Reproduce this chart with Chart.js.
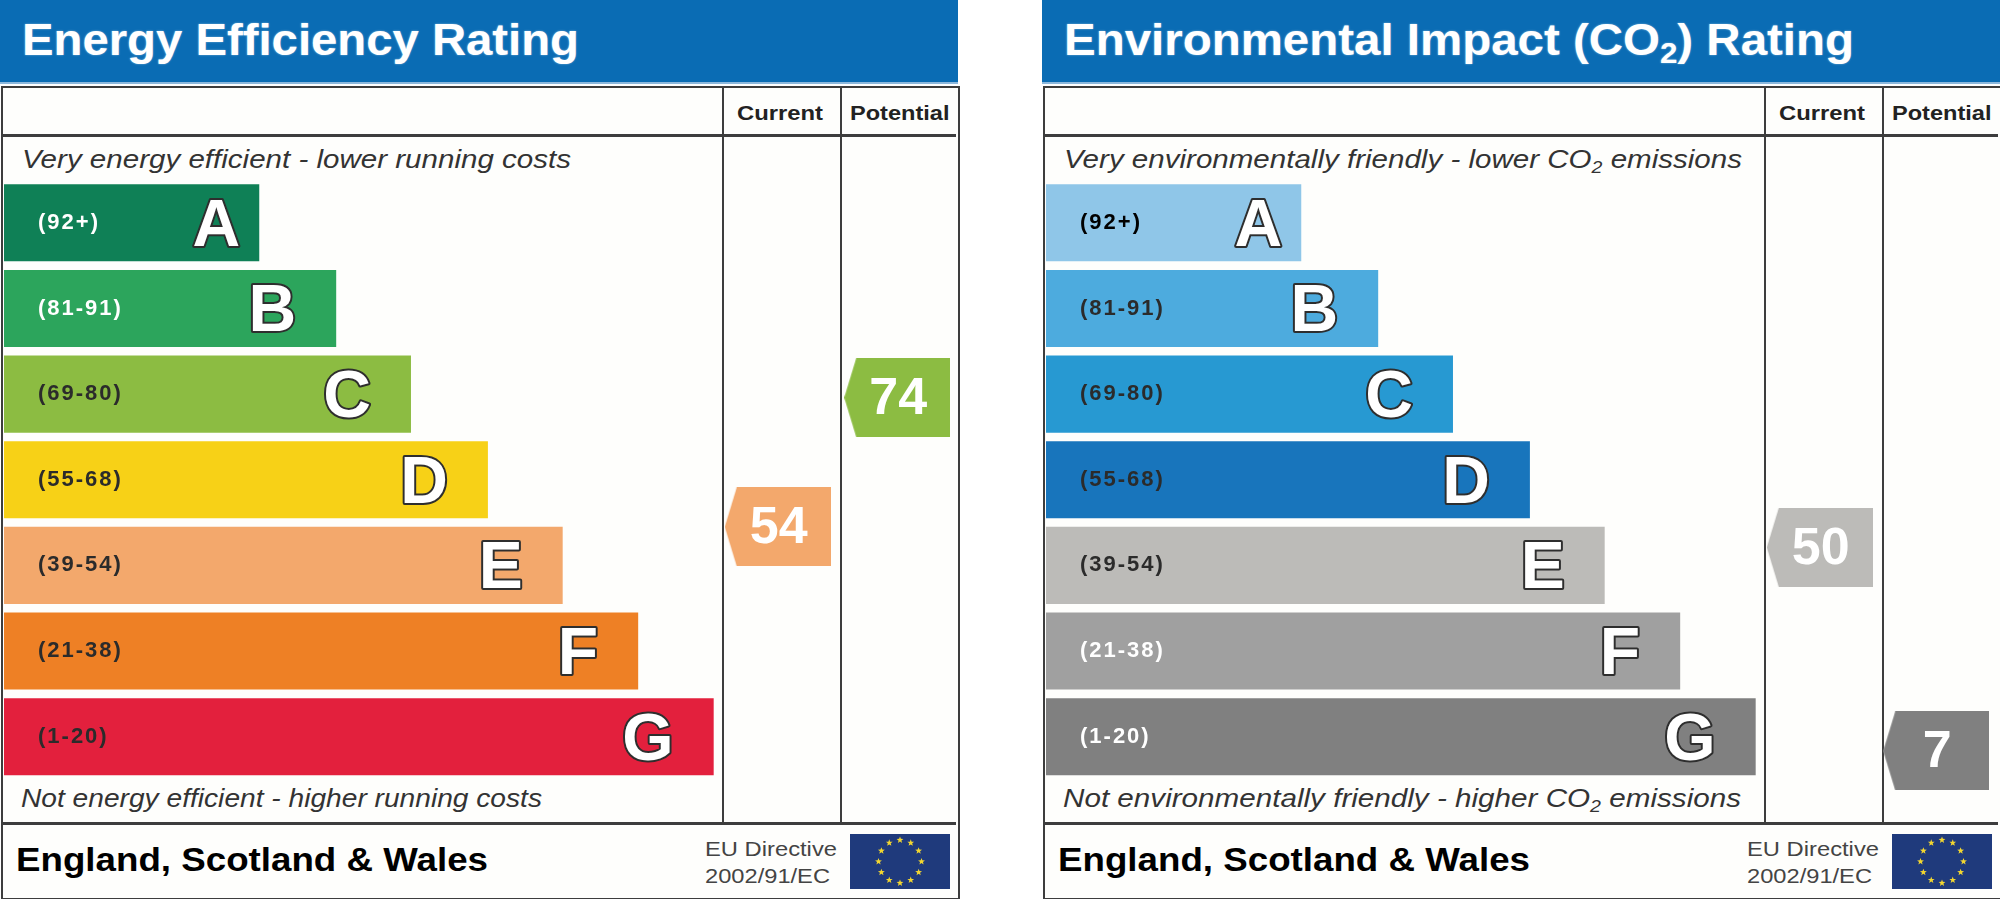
<!DOCTYPE html>
<html>
<head>
<meta charset="utf-8">
<title>Energy Efficiency and Environmental Impact Ratings</title>
<script src="https://cdn.jsdelivr.net/npm/chart.js@4"></script>
<style>
  html, body { margin: 0; padding: 0; background: #fff; }
  #page { position: relative; width: 2000px; height: 899px; overflow: hidden; font-family: "Liberation Sans", Arial, sans-serif; }
  .panel { position: absolute; top: 0; width: 958px; height: 899px; }
  .head { position: absolute; left: 0; top: 0; width: 958px; height: 82px; background: #0a6cb4; border-bottom: 2px solid #8db9dd; }
  .frame { position: absolute; left: 1px; top: 86px; width: 955px; height: 810px; background: #fefefc; border: 2px solid #3d3d3d; }
  .rule { position: absolute; background: #3d3d3d; }
  .flag { position: absolute; left: 850px; top: 834px; }
  .txt { position: absolute; white-space: nowrap; line-height: 1; transform-origin: 0 50%; }
  .txt sub { font-size: 66%; line-height: 0; vertical-align: -0.28em; }
  canvas { position: absolute; left: 0; top: 0; }
</style>
</head>
<body>
<div id="page"></div>
<script>
// Bands, top to bottom
const bandRanges = ['(92+)', '(81-91)', '(69-80)', '(55-68)', '(39-54)', '(21-38)', '(1-20)'];
const bandLetters = ['A', 'B', 'C', 'D', 'E', 'F', 'G'];
const bandLow = [92, 81, 69, 55, 39, 21, 1];
const bandHigh = [100, 91, 80, 68, 54, 38, 20];
const bandLengths = [35.5, 46.2, 56.6, 67.3, 77.7, 88.2, 98.7];

const energyColors = ['#0f8056', '#2ca55c', '#8cbc42', '#f7d117', '#f3a86c', '#ee8025', '#e3203d'];
const energyLabelColors = ['#fff', '#fff', '#2b2b2b', '#2b2b2b', '#2b2b2b', '#2b2b2b', '#2b2b2b'];
const energyScores = [54, 74];

const co2Colors = ['#8fc6e8', '#4dabde', '#2799d2', '#1875bc', '#bcbbb8', '#a0a0a0', '#808080'];
const co2LabelColors = ['#000', '#2b2b2b', '#2b2b2b', '#2b2b2b', '#2b2b2b', '#fff', '#fff'];
const co2Scores = [50, 7];

const FONT = '"Liberation Sans", Arial, sans-serif';
const CHART_PADDING = { left: 4, right: 2, top: 180, bottom: 119.5 };

// score -> position on the 0..7 band axis, the arrow sits inside its band
function bandIndex(score) {
    return bandLow.findIndex((low, i) => score >= low && score <= bandHigh[i]);
}
function bandPos(score) {
    const i = bandIndex(score);
    return i + 0.05 + 0.9 * (bandHigh[i] - score) / (bandHigh[i] - bandLow[i]);
}

function arrowImage(color) {
    const c = document.createElement('canvas');
    c.width = 106;
    c.height = 79;
    const g = c.getContext('2d');
    g.fillStyle = color;
    g.beginPath();
    g.moveTo(12, 0);
    g.lineTo(106, 0);
    g.lineTo(106, 79);
    g.lineTo(12, 79);
    g.lineTo(0, 39.5);
    g.closePath();
    g.fill();
    return c;
}

// Big outlined band letters, right aligned inside each bar
const letterPlugin = {
    id: 'letterPlugin',
    beforeDraw(chart) {
        chart.ctx.letterSpacing = '2px';  // picked up by the range tick labels
    },
    afterDatasetsDraw(chart) {
        const ctx = chart.ctx;
        ctx.save();
        ctx.letterSpacing = '0px';
        ctx.font = 'bold 66px ' + FONT;
        ctx.textAlign = 'right';
        ctx.textBaseline = 'alphabetic';
        ctx.lineJoin = 'round';
        chart.getDatasetMeta(0).data.forEach((bar, i) => {
            const x = bar.x - (i === 0 ? 19 : 40);
            const y = bar.y + 23;
            ctx.lineWidth = 4;
            ctx.strokeStyle = '#2e2e2e';
            ctx.strokeText(bandLetters[i], x, y);
            ctx.fillStyle = '#fff';
            ctx.fillText(bandLetters[i], x, y);
        });
        ctx.restore();
    }
};

// Score numbers on the arrows
const scorePlugin = {
    id: 'scorePlugin',
    afterDatasetsDraw(chart) {
        const ctx = chart.ctx;
        const scores = chart.data.datasets[0].scores;
        ctx.save();
        ctx.font = 'bold 52px ' + FONT;
        ctx.textAlign = 'center';
        ctx.textBaseline = 'middle';
        ctx.fillStyle = '#fff';
        chart.getDatasetMeta(0).data.forEach((pt, i) => {
            ctx.fillText(String(scores[i]), pt.x + 1, pt.y + 2);
        });
        ctx.restore();
    }
};

function addText(parent, html, x, baseline, size, style, targetWidth) {
    const el = document.createElement('div');
    el.className = 'txt';
    el.innerHTML = html;
    el.style.left = x + 'px';
    el.style.top = (baseline - 0.8465 * size) + 'px';
    el.style.fontSize = size + 'px';
    el.style.cssText += style;
    parent.appendChild(el);
    if (targetWidth) {
        // the lettering on the label is a bit wider than the plain font
        const w = el.getBoundingClientRect().width;
        el.style.transform = 'scaleX(' + (targetWidth / w) + ')';
    }
    return el;
}

function addRule(parent, x, y, w, h) {
    const el = document.createElement('div');
    el.className = 'rule';
    el.style.cssText = `left:${x}px;top:${y}px;width:${w}px;height:${h}px`;
    parent.appendChild(el);
}

function addFlag(parent) {
    const cx = 50, cy = 27.5, ring = 21.5, outer = 3.6, inner = 1.5;
    let stars = '';
    for (let s = 0; s < 12; s++) {
        const a = s * Math.PI / 6;
        const sx = cx + ring * Math.sin(a);
        const sy = cy - ring * Math.cos(a);
        const pts = [];
        for (let k = 0; k < 10; k++) {
            const r = k % 2 ? inner : outer;
            const b = k * Math.PI / 5;
            pts.push((sx + r * Math.sin(b)).toFixed(2) + ',' + (sy - r * Math.cos(b)).toFixed(2));
        }
        stars += `<polygon points="${pts.join(' ')}" fill="#f2d630"/>`;
    }
    const wrap = document.createElement('div');
    wrap.className = 'flag';
    wrap.innerHTML = `<svg width="100" height="55" viewBox="0 0 100 55"><rect width="100" height="55" fill="#1f3a7c"/>${stars}</svg>`;
    parent.appendChild(wrap);
}

function addCanvas(parent) {
    const canvas = document.createElement('canvas');
    canvas.width = 958;
    canvas.height = 899;
    parent.appendChild(canvas);
    return canvas;
}

function drawPanel(left, opts) {
    const panel = document.createElement('div');
    panel.className = 'panel';
    panel.style.left = left + 'px';
    document.getElementById('page').appendChild(panel);

    panel.insertAdjacentHTML('beforeend', '<div class="head"></div><div class="frame"></div>');
    addRule(panel, 3, 134, 953, 3);
    addRule(panel, 722, 88, 2, 735);
    addRule(panel, 840, 88, 2, 735);
    addRule(panel, 3, 822, 953, 3);

    addText(panel, opts.title, 22, 55, 45, 'font-weight:bold;color:#fff;text-shadow:0 0 2px rgba(255,255,255,.5);', opts.titleWidth);
    addText(panel, 'Current', 737, 120, 20, 'font-weight:bold;color:#222;', 86);
    addText(panel, 'Potential', 849.5, 120, 20, 'font-weight:bold;color:#222;', 99.5);
    addText(panel, opts.topNote, 22, 168, 25, 'font-style:italic;color:#333;', opts.topWidth);
    addText(panel, opts.bottomNote, 21, 807, 25, 'font-style:italic;color:#333;', opts.bottomWidth);
    addText(panel, 'England, Scotland &amp; Wales', 16, 871, 33, 'font-weight:bold;color:#000;', 472);
    addText(panel, 'EU Directive', 705, 856, 21, 'color:#444;', 132);
    addText(panel, '2002/91/EC', 705, 883, 21, 'color:#444;', 125);
    addFlag(panel);

    // rating bands
    new Chart(addCanvas(panel), {
        type: 'bar',
        data: {
            labels: bandRanges,
            datasets: [{
                data: bandLengths,
                backgroundColor: opts.colors,
                barPercentage: 0.9,
                categoryPercentage: 1
            }]
        },
        options: {
            indexAxis: 'y',
            responsive: false,
            animation: false,
            layout: { padding: CHART_PADDING },
            plugins: { legend: { display: false }, tooltip: { enabled: false } },
            scales: {
                x: { type: 'linear', display: false, min: 0, max: 132.4 },
                y: {
                    type: 'category',
                    offset: true,
                    grid: { display: false },
                    border: { display: false },
                    afterFit: scale => { scale.width = 0; },
                    ticks: {
                        z: 1,
                        mirror: true,
                        padding: 34,
                        autoSkip: false,
                        font: { family: FONT, size: 22, weight: 'bold' },
                        color: ctx => opts.labelColors[ctx.index]
                    }
                }
            }
        },
        plugins: [letterPlugin]
    });

    // current / potential arrows, column 1 and 2 on the x axis
    new Chart(addCanvas(panel), {
        type: 'scatter',
        data: {
            datasets: [{
                scores: opts.scores,
                data: opts.scores.map((s, i) => ({ x: i === 0 ? 1 : opts.potentialCol, y: bandPos(s) })),
                pointStyle: opts.scores.map(s => arrowImage(opts.colors[bandIndex(s)])),
                clip: false
            }]
        },
        options: {
            responsive: false,
            animation: false,
            layout: { padding: CHART_PADDING },
            plugins: { legend: { display: false }, tooltip: { enabled: false } },
            scales: {
                x: { type: 'linear', display: false, min: -5.4667, max: 2.4667 },
                y: { type: 'linear', display: false, reverse: true, min: 0, max: 7 }
            }
        },
        plugins: [scorePlugin]
    });
}

drawPanel(0, {
    title: 'Energy Efficiency Rating',
    titleWidth: 557,
    topNote: 'Very energy efficient - lower running costs',
    topWidth: 549,
    bottomNote: 'Not energy efficient - higher running costs',
    bottomWidth: 521,
    colors: energyColors,
    labelColors: energyLabelColors,
    scores: energyScores,
    potentialCol: 2
});

drawPanel(1042, {
    title: 'Environmental Impact (CO<sub>2</sub>) Rating',
    titleWidth: 790,
    topNote: 'Very environmentally friendly - lower CO<sub>2</sub> emissions',
    topWidth: 678,
    bottomNote: 'Not environmentally friendly - higher CO<sub>2</sub> emissions',
    bottomWidth: 678,
    colors: co2Colors,
    labelColors: co2LabelColors,
    scores: co2Scores,
    potentialCol: 1.975
});
</script>
</body>
</html>
